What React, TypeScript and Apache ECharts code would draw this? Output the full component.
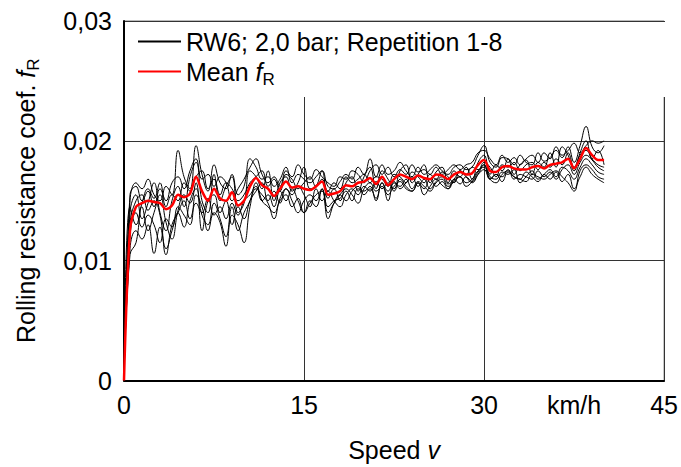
import React, { useEffect, useRef } from "react";
import * as echarts from "echarts";

const speeds = [
  0, 0.5, 1, 1.5, 2, 2.5, 3, 3.5, 4, 4.5,
  5, 5.5, 6, 6.5, 7, 7.5, 8, 8.5, 9, 9.5,
  10, 10.5, 11, 11.5, 12, 12.5, 13, 13.5, 14, 14.5,
  15, 15.5, 16, 16.5, 17, 17.5, 18, 18.5, 19, 19.5,
  20, 20.5, 21, 21.5, 22, 22.5, 23, 23.5, 24, 24.5,
  25, 25.5, 26, 26.5, 27, 27.5, 28, 28.5, 29, 29.5,
  30, 30.5, 31, 31.5, 32, 32.5, 33, 33.5, 34, 34.5,
  35, 35.5, 36, 36.5, 37, 37.5, 38, 38.5, 39, 39.5,
  40,
];

const meanFR = [
  0, 0.0125, 0.0145, 0.0148, 0.0150, 0.0149, 0.0148, 0.0143, 0.0146, 0.0155,
  0.0153, 0.0156, 0.0170, 0.0158, 0.0150, 0.0160, 0.0152, 0.0150, 0.0157, 0.0146,
  0.0150, 0.0162, 0.0169, 0.0163, 0.0160, 0.0154, 0.0160, 0.0166, 0.0161, 0.0162,
  0.0160, 0.0159, 0.0162, 0.0166, 0.0155, 0.0156, 0.0158, 0.0163, 0.0162, 0.0165,
  0.0166, 0.0169, 0.0164, 0.0170, 0.0163, 0.0168, 0.0172, 0.0170, 0.0168, 0.0171,
  0.0169, 0.0168, 0.0172, 0.0171, 0.0168, 0.0172, 0.0174, 0.0172, 0.0173, 0.0180,
  0.0184, 0.0175, 0.0174, 0.0178, 0.0179, 0.0177, 0.0176, 0.0176, 0.0178, 0.0179,
  0.0177, 0.0180, 0.0181, 0.0182, 0.0185, 0.0177, 0.0185, 0.0194, 0.0188, 0.0184,
  0.0184,
];

const rep1 = [
  0, 0.0150, 0.0165, 0.0160, 0.0168, 0.0155, 0.0150, 0.0162, 0.0155, 0.0192,
  0.0170, 0.0160, 0.0196, 0.0172, 0.0158, 0.0180, 0.0165, 0.0160, 0.0172, 0.0155,
  0.0162, 0.0185, 0.0178, 0.0168, 0.0170, 0.0162, 0.0168, 0.0178, 0.0165, 0.0172,
  0.0168, 0.0165, 0.0170, 0.0175, 0.0162, 0.0160, 0.0166, 0.0172, 0.0168, 0.0178,
  0.0172, 0.0185, 0.0170, 0.0180, 0.0172, 0.0175, 0.0182, 0.0175, 0.0170, 0.0178,
  0.0172, 0.0176, 0.0180, 0.0175, 0.0172, 0.0178, 0.0180, 0.0176, 0.0178, 0.0188,
  0.0196, 0.0182, 0.0178, 0.0186, 0.0185, 0.0180, 0.0188, 0.0182, 0.0180, 0.0190,
  0.0183, 0.0186, 0.0192, 0.0186, 0.0195, 0.0182, 0.0196, 0.0212, 0.0195, 0.0190,
  0.0196,
];
const rep2 = [
  0, 0.0110, 0.0125, 0.0118, 0.0130, 0.0106, 0.0128, 0.0110, 0.0125, 0.0140,
  0.0128, 0.0150, 0.0160, 0.0138, 0.0130, 0.0148, 0.0135, 0.0120, 0.0145, 0.0125,
  0.0140, 0.0150, 0.0165, 0.0150, 0.0145, 0.0140, 0.0150, 0.0155, 0.0145, 0.0152,
  0.0140, 0.0148, 0.0155, 0.0158, 0.0145, 0.0150, 0.0152, 0.0158, 0.0150, 0.0160,
  0.0158, 0.0162, 0.0150, 0.0165, 0.0155, 0.0162, 0.0166, 0.0160, 0.0158, 0.0165,
  0.0155, 0.0162, 0.0168, 0.0163, 0.0160, 0.0167, 0.0170, 0.0165, 0.0168, 0.0175,
  0.0178, 0.0168, 0.0165, 0.0172, 0.0175, 0.0170, 0.0168, 0.0166, 0.0172, 0.0170,
  0.0168, 0.0172, 0.0175, 0.0170, 0.0165, 0.0158, 0.0175, 0.0180, 0.0176, 0.0170,
  0.0168,
];
const rep3 = [
  0, 0.0140, 0.0155, 0.0135, 0.0148, 0.0165, 0.0140, 0.0125, 0.0150, 0.0162,
  0.0145, 0.0170, 0.0182, 0.0150, 0.0140, 0.0172, 0.0150, 0.0162, 0.0170, 0.0140,
  0.0148, 0.0175, 0.0170, 0.0160, 0.0175, 0.0150, 0.0165, 0.0170, 0.0158, 0.0165,
  0.0178, 0.0160, 0.0162, 0.0175, 0.0152, 0.0160, 0.0150, 0.0165, 0.0170, 0.0158,
  0.0170, 0.0178, 0.0160, 0.0175, 0.0168, 0.0160, 0.0175, 0.0180, 0.0165, 0.0172,
  0.0180, 0.0165, 0.0174, 0.0178, 0.0165, 0.0175, 0.0170, 0.0178, 0.0168, 0.0182,
  0.0188, 0.0172, 0.0180, 0.0175, 0.0185, 0.0172, 0.0180, 0.0184, 0.0172, 0.0182,
  0.0178, 0.0190, 0.0178, 0.0195, 0.0188, 0.0175, 0.0190, 0.0200, 0.0185, 0.0192,
  0.0180,
];
const rep4 = [
  0, 0.0120, 0.0140, 0.0128, 0.0138, 0.0130, 0.0115, 0.0135, 0.0128, 0.0145,
  0.0138, 0.0130, 0.0155, 0.0145, 0.0125, 0.0140, 0.0132, 0.0112, 0.0138, 0.0130,
  0.0115, 0.0145, 0.0160, 0.0155, 0.0148, 0.0135, 0.0152, 0.0160, 0.0150, 0.0140,
  0.0150, 0.0155, 0.0150, 0.0160, 0.0140, 0.0148, 0.0155, 0.0160, 0.0155, 0.0148,
  0.0160, 0.0165, 0.0158, 0.0162, 0.0150, 0.0165, 0.0162, 0.0168, 0.0160, 0.0166,
  0.0162, 0.0158, 0.0165, 0.0168, 0.0162, 0.0166, 0.0170, 0.0162, 0.0166, 0.0174,
  0.0180, 0.0170, 0.0168, 0.0174, 0.0172, 0.0176, 0.0165, 0.0170, 0.0175, 0.0168,
  0.0172, 0.0176, 0.0170, 0.0178, 0.0175, 0.0168, 0.0178, 0.0185, 0.0180, 0.0174,
  0.0172,
];
const rep5 = [
  0, 0.0155, 0.0162, 0.0150, 0.0158, 0.0145, 0.0160, 0.0150, 0.0165, 0.0170,
  0.0160, 0.0175, 0.0185, 0.0168, 0.0172, 0.0162, 0.0170, 0.0165, 0.0150, 0.0160,
  0.0168, 0.0178, 0.0185, 0.0172, 0.0165, 0.0170, 0.0162, 0.0175, 0.0170, 0.0180,
  0.0172, 0.0168, 0.0176, 0.0170, 0.0165, 0.0162, 0.0170, 0.0168, 0.0175, 0.0172,
  0.0165, 0.0175, 0.0180, 0.0172, 0.0178, 0.0170, 0.0176, 0.0172, 0.0180, 0.0174,
  0.0176, 0.0172, 0.0178, 0.0172, 0.0176, 0.0180, 0.0176, 0.0180, 0.0182, 0.0190,
  0.0192, 0.0185, 0.0180, 0.0188, 0.0182, 0.0186, 0.0180, 0.0185, 0.0188, 0.0182,
  0.0190, 0.0185, 0.0195, 0.0188, 0.0192, 0.0198, 0.0190, 0.0196, 0.0200, 0.0198,
  0.0200,
];
const rep6 = [
  0, 0.0130, 0.0150, 0.0155, 0.0142, 0.0150, 0.0138, 0.0105, 0.0130, 0.0140,
  0.0150, 0.0135, 0.0148, 0.0140, 0.0152, 0.0138, 0.0145, 0.0135, 0.0148, 0.0138,
  0.0150, 0.0155, 0.0162, 0.0150, 0.0155, 0.0145, 0.0158, 0.0150, 0.0160, 0.0150,
  0.0140, 0.0150, 0.0145, 0.0160, 0.0135, 0.0148, 0.0155, 0.0150, 0.0158, 0.0162,
  0.0155, 0.0160, 0.0152, 0.0165, 0.0158, 0.0166, 0.0160, 0.0165, 0.0170, 0.0162,
  0.0168, 0.0160, 0.0166, 0.0170, 0.0164, 0.0168, 0.0175, 0.0170, 0.0165, 0.0172,
  0.0180, 0.0168, 0.0172, 0.0170, 0.0176, 0.0168, 0.0172, 0.0170, 0.0168, 0.0175,
  0.0170, 0.0174, 0.0168, 0.0176, 0.0180, 0.0172, 0.0182, 0.0188, 0.0184, 0.0178,
  0.0175,
];
const rep7 = [
  0, 0.0145, 0.0130, 0.0148, 0.0160, 0.0152, 0.0165, 0.0145, 0.0155, 0.0150,
  0.0165, 0.0158, 0.0170, 0.0175, 0.0160, 0.0168, 0.0155, 0.0165, 0.0160, 0.0150,
  0.0155, 0.0165, 0.0170, 0.0175, 0.0162, 0.0168, 0.0158, 0.0172, 0.0168, 0.0160,
  0.0165, 0.0170, 0.0162, 0.0168, 0.0158, 0.0165, 0.0160, 0.0170, 0.0165, 0.0168,
  0.0172, 0.0165, 0.0170, 0.0168, 0.0162, 0.0172, 0.0170, 0.0165, 0.0174, 0.0170,
  0.0165, 0.0172, 0.0168, 0.0174, 0.0170, 0.0165, 0.0175, 0.0172, 0.0178, 0.0176,
  0.0182, 0.0178, 0.0170, 0.0180, 0.0178, 0.0182, 0.0175, 0.0180, 0.0182, 0.0176,
  0.0182, 0.0178, 0.0185, 0.0180, 0.0190, 0.0178, 0.0188, 0.0192, 0.0185, 0.0180,
  0.0178,
];
const rep8 = [
  0, 0.0105, 0.0115, 0.0145, 0.0125, 0.0140, 0.0155, 0.0132, 0.0118, 0.0142,
  0.0155, 0.0148, 0.0165, 0.0125, 0.0150, 0.0155, 0.0140, 0.0150, 0.0130, 0.0145,
  0.0135, 0.0150, 0.0158, 0.0165, 0.0150, 0.0158, 0.0148, 0.0160, 0.0155, 0.0162,
  0.0155, 0.0145, 0.0160, 0.0150, 0.0158, 0.0150, 0.0145, 0.0155, 0.0160, 0.0155,
  0.0162, 0.0158, 0.0166, 0.0160, 0.0165, 0.0158, 0.0168, 0.0162, 0.0158, 0.0165,
  0.0160, 0.0168, 0.0162, 0.0166, 0.0160, 0.0168, 0.0164, 0.0170, 0.0166, 0.0172,
  0.0176, 0.0168, 0.0172, 0.0166, 0.0174, 0.0170, 0.0168, 0.0174, 0.0170, 0.0166,
  0.0172, 0.0168, 0.0174, 0.0166, 0.0172, 0.0160, 0.0170, 0.0178, 0.0172, 0.0168,
  0.0165,
];

const repetitions = [rep1, rep2, rep3, rep4, rep5, rep6, rep7, rep8];
const repName = "RW6; 2,0 bar; Repetition 1-8";
const meanName = "Mean fR";
const FONT = "Liberation Sans, Arial, sans-serif";

const rich = {
  n: { fontSize: 25, fontFamily: FONT, color: "#000", lineHeight: 32 },
  i: { fontSize: 25, fontFamily: FONT, color: "#000", fontStyle: "italic", lineHeight: 32 },
  s: { fontSize: 17, fontFamily: FONT, color: "#000", lineHeight: 17, verticalAlign: "bottom" },
};

export default function App() {
  const ref = useRef<HTMLDivElement>(null);
  useEffect(() => {
    if (!ref.current) return;
    const chart = echarts.init(ref.current, undefined, { renderer: "svg" });
    const pairs = (arr: number[]) => speeds.map((s, i) => [s, arr[i]]);
    const blackSeries = repetitions.map((arr) => ({
      name: repName,
      type: "line",
      data: pairs(arr),
      symbol: "none",
      smooth: 0.45,
      lineStyle: { color: "#000", width: 1 },
      itemStyle: { color: "#000" },
      z: 2,
    }));
    chart.setOption({
      animation: false,
      backgroundColor: "#fff",
      grid: {
        left: 124,
        right: 14,
        top: 21,
        bottom: 85,
        show: true,
        borderColor: "#777",
        borderWidth: 1,
        backgroundColor: "transparent",
      },
      graphic: [
        {
          type: "rect",
          shape: { x: 125, y: 22, width: 541, height: 75 },
          style: { fill: "#fff" },
          z: 3,
        },
      ],
      legend: {
        orient: "vertical",
        left: 132,
        top: 24,
        itemWidth: 43,
        itemHeight: 14,
        itemGap: 5,
        z: 10,
        itemStyle: { opacity: 0 },
        data: [repName, meanName],
        textStyle: { fontSize: 25, fontFamily: FONT, color: "#000", rich },
        formatter: (name: string) =>
          name === meanName ? "{n|Mean }{i|f}{s|R}" : name,
      },
      xAxis: [
        {
          type: "value",
          min: 0,
          max: 45,
          interval: 15,
          position: "bottom",
          name: "{n|Speed }{i|v}",
          nameLocation: "middle",
          nameGap: 53,
          nameTextStyle: { rich },
          axisLine: { show: true, lineStyle: { color: "#000", width: 2 } },
          axisTick: { show: false },
          axisLabel: {
            fontSize: 25,
            fontFamily: FONT,
            color: "#000",
            margin: 12,
          },
          splitLine: { show: true, lineStyle: { color: "#333", width: 1 } },
        },
        {
          type: "value",
          min: 0,
          max: 45,
          interval: 7.5,
          position: "bottom",
          axisLine: { show: false },
          axisTick: { show: false },
          splitLine: { show: false },
          axisLabel: {
            fontSize: 25,
            fontFamily: FONT,
            color: "#000",
            margin: 12,
            formatter: (v: number) => (v === 37.5 ? "km/h" : ""),
          },
        },
      ],
      yAxis: {
        type: "value",
        min: 0,
        max: 0.03,
        interval: 0.01,
        name: "{n|Rolling resistance coef. }{i|f}{s|R}",
        nameLocation: "middle",
        nameRotate: 90,
        nameGap: 82,
        nameTextStyle: { rich },
        axisLine: { show: true, lineStyle: { color: "#000", width: 2 } },
        axisTick: { show: false },
        axisLabel: {
          fontSize: 25,
          fontFamily: FONT,
          color: "#000",
          margin: 12,
          formatter: (v: number) => (v === 0 ? "0" : v.toFixed(2).replace(".", ",")),
        },
        splitLine: { show: true, lineStyle: { color: "#333", width: 1 } },
      },
      series: [
        ...blackSeries,
        {
          name: meanName,
          type: "line",
          data: pairs(meanFR),
          symbol: "none",
          smooth: 0.3,
          lineStyle: { color: "#ff0000", width: 2.5 },
          itemStyle: { color: "#ff0000" },
          z: 5,
        },
      ],
    });
    return () => chart.dispose();
  }, []);
  return (
    <div
      ref={ref}
      style={{ position: "fixed", left: 0, top: 0, width: 681, height: 467, background: "#fff" }}
    />
  );
}
